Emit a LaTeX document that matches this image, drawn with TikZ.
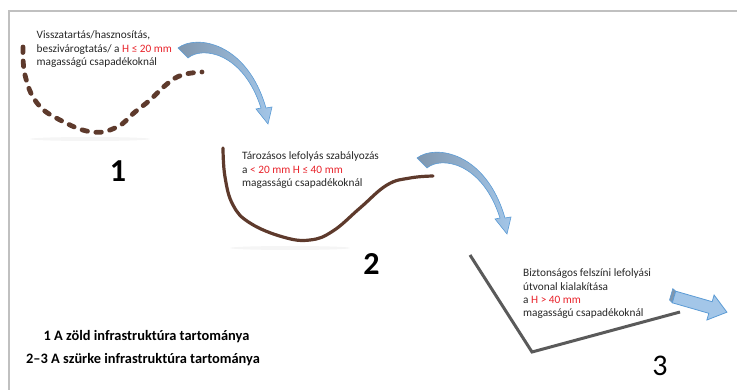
\documentclass[tikz,border=0pt]{standalone}
\usepackage{fontspec}
\setmainfont{Carlito}
\definecolor{brn}{HTML}{5E3A2C}
\definecolor{txt}{HTML}{262626}
\definecolor{hred}{HTML}{E8232B}
\definecolor{lineg}{HTML}{5A5A5A}
\definecolor{arrowfill}{HTML}{A3C6E8}
\definecolor{arrowedge}{HTML}{5B9BD5}
\definecolor{arrowdark}{HTML}{7F96AE}
\definecolor{bordergray}{HTML}{C0C0C0}
\tikzset{
  small/.style={anchor=base west, inner sep=0pt, text=txt, font=\fontsize{11.3}{13}\selectfont},
  bignum/.style={anchor=base, inner sep=0pt, text=black, font=\fontsize{32}{36}\selectfont\bfseries},
  legend/.style={anchor=base, inner sep=0pt, text=black, font=\fontsize{14.4}{16}\selectfont\bfseries},
  curvedarrow/.style={draw=arrowedge, line width=0.6pt, left color=arrowdark, right color=arrowfill},
}
\begin{document}
\begin{tikzpicture}[x=1pt,y=-1pt]
\useasboundingbox (0,0) rectangle (737,390);
% border
\draw[bordergray, line width=1.3pt] (9,390) -- (9,11) -- (737,11);

% faint shadows
\fill[gray!8] (90,139) ellipse (60 and 2);
\fill[gray!8] (290,248) ellipse (60 and 2);

% curve 1 (dashed)
\draw[brn, line width=4.8pt, line cap=round, dash pattern=on 5.5pt off 8.5pt]
  plot[smooth, tension=0.7] coordinates {(23,47) (25,75) (37,103) (60,120) (92,132) (117,127) (135,112) (150,100) (167,84) (182,75) (202,72)};

% curve 2 (solid)
\draw[brn, line width=3.2pt, line cap=round]
  plot[smooth, tension=0.7] coordinates {(223,148) (225,177) (233,205) (250,223) (283,237) (310,240) (333,231) (360,208) (387,185) (410,178) (433,176)};

% polyline 3
\draw[lineg, line width=3pt] (470,255) -- (532,352) -- (680,312);

% curved arrows
\path[curvedarrow] (178,48) .. controls (196,34) and (247,42) .. (266,108) -- (272,107) -- (268,124) -- (256,109) -- (261,108) .. controls (243,52) and (202,46) .. (188,58) -- cycle;
\begin{scope}[shift={(239,110)}]
\path[curvedarrow] (178,48) .. controls (196,34) and (247,42) .. (266,108) -- (272,107) -- (268,124) -- (256,109) -- (261,108) .. controls (243,52) and (202,46) .. (188,58) -- cycle;
\end{scope}

% block arrow
\fill[arrowdark, draw=arrowedge, line width=0.6pt] (675.7,291.2) -- (672.3,302.8) -- (669.5,300) -- (672.8,288.6) -- cycle;
\path[draw=arrowedge, line width=0.8pt, fill=arrowfill] (675.7,291.2) -- (712.2,301.7) -- (714.1,295) -- (726.9,312.2) -- (706.9,320) -- (708.8,313.3) -- (672.3,302.8) -- cycle;

% text 1
\node[small] (t1a) at (36.5,39) {Visszatartás/hasznosítás,};
\node[small] (t1b) at (36.5,52.5) {beszivárogtatás/ a \textcolor{hred}{H ≤ 20 mm}};
\node[small] (t1c) at (36.5,66) {magasságú csapadékoknál};

% text 2
\node[small] (t2a) at (242,160) {Tározásos lefolyás szabályozás};
\node[small] (t2b) at (242,173.5) {a \textcolor{hred}{< 20 mm H ≤ 40 mm}};
\node[small] (t2c) at (242,187) {magasságú csapadékoknál};

% text 3
\node[small] (t3a) at (523,277) {Biztonságos felszíni lefolyási};
\node[small] (t3b) at (523,290.3) {útvonal kialakítása};
\node[small] (t3c) at (523,303.6) {a \textcolor{hred}{H > 40 mm}};
\node[small] (t3d) at (523,317) {magasságú csapadékoknál};

% numbers
\node[bignum] (n1) at (118,182) {1};
\node[bignum] (n2) at (371.5,275) {2};
\node[bignum, font=\fontsize{30}{34}\selectfont] (n3) at (660,375) {3};

% legend
\node[legend] (l1) at (146.5,341) {1 A zöld infrastruktúra tartománya};
\node[legend] (l2) at (143,363) {2–3 A szürke infrastruktúra tartománya};
\end{tikzpicture}
\end{document}
